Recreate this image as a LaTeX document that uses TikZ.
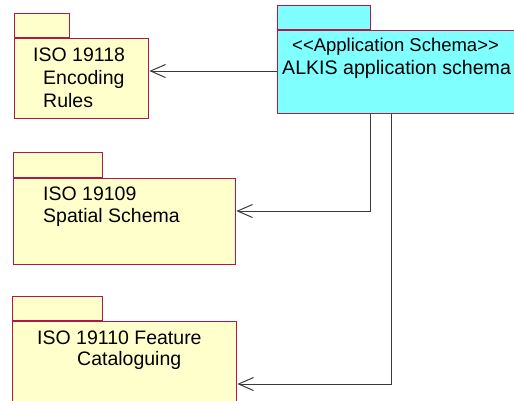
\documentclass[tikz,border=0pt]{standalone}
\usepackage{fontspec}
\setmainfont{Liberation Sans}
\usetikzlibrary{arrows.meta}
\definecolor{pkgborder}{HTML}{B0184A}
\definecolor{pkgyellow}{HTML}{FFFFCC}
\definecolor{pkgcyan}{HTML}{80FFFF}
\definecolor{linkgray}{HTML}{3A3A3A}
\tikzset{
  pkg/.style={draw=pkgborder, line width=1.3pt, rectangle, inner sep=0pt, anchor=north west},
  yellowpkg/.style={pkg, fill=pkgyellow},
  cyanpkg/.style={pkg, fill=pkgcyan},
  pkgtab/.style={anchor=south west},
  label/.style={anchor=base west, inner sep=0pt, font=\fontsize{19.5}{23}\selectfont},
  dep/.style={draw=linkgray, line width=1pt, -{Straight Barb[length=15pt,width=13pt,line width=1pt]}}
}
\begin{document}
\begin{tikzpicture}[x=1pt, y=-1pt]
\useasboundingbox (0,0) rectangle (514,400);
\clip (0,0) rectangle (514,400);

% ISO 19118 package
\node[yellowpkg, minimum width=134pt, minimum height=80pt] (p1) at (14,38) {};
\node[yellowpkg, pkgtab, minimum width=55pt, minimum height=24pt] (p1tab) at (p1.north west) {};
\node[label] (p1a) at (33,61.5) {ISO 19118};
\node[label] (p1b) at (43,84) {Encoding};
\node[label] (p1c) at (43,107) {Rules};

% ISO 19109 package
\node[yellowpkg, minimum width=222pt, minimum height=86pt] (p2) at (13,178) {};
\node[yellowpkg, pkgtab, minimum width=89pt, minimum height=25pt] (p2tab) at (p2.north west) {};
\node[label] (p2a) at (43,200) {ISO 19109};
\node[label] (p2b) at (43,222) {Spatial Schema};

% ISO 19110 package
\node[yellowpkg, minimum width=224pt, minimum height=90pt] (p3) at (12,321) {};
\node[yellowpkg, pkgtab, minimum width=90pt, minimum height=24pt] (p3tab) at (p3.north west) {};
\node[label] (p3a) at (37,344) {ISO 19110 Feature};
\node[label] (p3b) at (77,365) {Cataloguing};

% ALKIS application schema package
\node[cyanpkg, minimum width=260pt, minimum height=83pt] (app) at (277,30) {};
\node[cyanpkg, pkgtab, minimum width=93pt, minimum height=24pt] (apptab) at (app.north west) {};
\node[label, font=\fontsize{18.5}{22}\selectfont] (appa) at (292,51) {<\kern0pt<Application Schema>\kern0pt>};
\node[label, font=\fontsize{19.6}{24}\selectfont] (appb) at (282,74.5) {ALKIS application schema};

% dependencies
\coordinate (j1) at (277,71);
\coordinate (j2) at (370,211);
\coordinate (j3) at (391,384);
\draw[dep] (j1) -- (j1 -| p1.east);
\draw[dep] (app.south -| j2) -- (j2) -- (j2 -| p2.east);
\draw[dep] (app.south -| j3) -- (j3) -- (j3 -| p3.east);
\end{tikzpicture}
\end{document}
